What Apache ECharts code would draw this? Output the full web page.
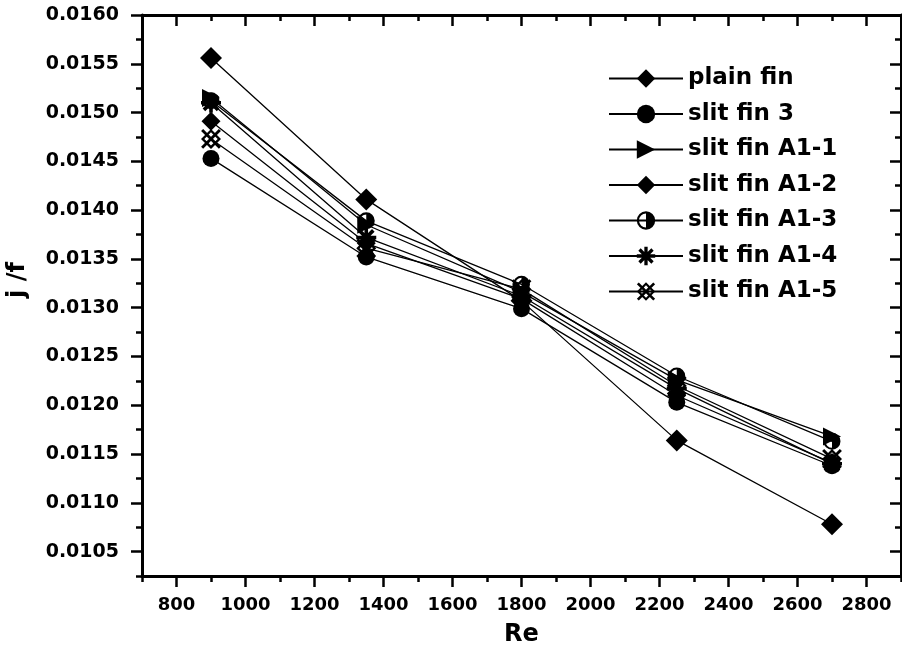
<!DOCTYPE html>
<html>
<head>
<meta charset="utf-8">
<title>j/f versus Re</title>
<script src="https://cdn.jsdelivr.net/npm/echarts@6/dist/echarts.min.js"></script>
<style>
  html, body { margin: 0; padding: 0; background: #fff; }
  #chart { width: 902px; height: 654px; }
</style>
</head>
<body>
<div id="chart"></div>
<script>
// Reynolds numbers of the measured points
const reValues = [900, 1350, 1800, 2250, 2700];

// j/f for each fin type
const plainFin = [0.01556, 0.01411, 0.01307, 0.01164, 0.01078];
const slitFin3 = [0.01453, 0.01352, 0.01299, 0.01203, 0.01138];
const slitFinA1_1 = [0.01515, 0.01385, 0.01316, 0.01226, 0.01168];
const slitFinA1_2 = [0.01491, 0.01366, 0.01309, 0.01210, 0.01141];
const slitFinA1_3 = [0.01512, 0.01389, 0.01324, 0.01230, 0.01163];
const slitFinA1_4 = [0.01510, 0.01372, 0.01312, 0.01217, 0.01140];
const slitFinA1_5 = [0.01473, 0.01361, 0.01319, 0.01220, 0.01145];

const seriesNames = ['plain fin', 'slit fin 3', 'slit fin A1-1', 'slit fin A1-2',
  'slit fin A1-3', 'slit fin A1-4', 'slit fin A1-5'];

// Tick labels
const xTickLabels = ['800', '1000', '1200', '1400', '1600', '1800', '2000', '2200', '2400', '2600', '2800'];
const yTickLabels = ['0.0105', '0.0110', '0.0115', '0.0120', '0.0125', '0.0130',
  '0.0135', '0.0140', '0.0145', '0.0150', '0.0155', '0.0160'];

const X_MIN = 700, X_MAX = 2900;
const Y_MIN = 0.01025, Y_MAX = 0.0160;

const xMajor = xTickLabels.map(Number);
const yMajor = yTickLabels.map(Number);
const xMinor = [];
for (let v = 700; v <= 2900; v += 200) xMinor.push(v);
const yMinor = yMajor.map(v => +(v - 0.00025).toFixed(5));

// Marker shapes
const SYM_TRIANGLE_RIGHT = 'path://M0,0 L20,10 L0,20 Z';
const SYM_HALF_CIRCLE = 'path://M0,10 A10,10 0 1,1 20,10 A10,10 0 1,1 0,10 Z ' +
  'M10,2.4 A7.6,7.6 0 0,0 2.4,10 A7.6,7.6 0 0,0 10,17.6 Z';
const SYM_ASTERISK = 'path://M0,8.2 L20,8.2 L20,11.8 L0,11.8 Z ' +
  'M8.2,0 L11.8,0 L11.8,20 L8.2,20 Z ' +
  'M4.2,1.66 L18.34,15.8 L15.8,18.34 L1.66,4.2 Z ' +
  'M18.34,4.2 L4.2,18.34 L1.66,15.8 L15.8,1.66 Z';
const SYM_CROSS_DIAMOND = 'path://M10,1 L19,10 L10,19 L1,10 Z ' +
  'M10,4 L4,10 L10,16 L16,10 Z ' +
  'M2.92,1.08 L18.92,17.08 L17.08,18.92 L1.08,2.92 Z ' +
  'M18.92,2.92 L2.92,18.92 L1.08,17.08 L17.08,1.08 Z';

const seriesData = [plainFin, slitFin3, slitFinA1_1, slitFinA1_2, slitFinA1_3, slitFinA1_4, slitFinA1_5];
const seriesSymbols = ['diamond', 'circle', SYM_TRIANGLE_RIGHT, 'diamond', SYM_HALF_CIRCLE, SYM_ASTERISK, SYM_CROSS_DIAMOND];
const seriesSymbolSizes = [22, 17, 18, 19, 17, 20, 20];

const FONT = 'DejaVu Sans';

const chart = echarts.init(document.getElementById('chart'), null, { renderer: 'canvas' });

function axisBase(extra) {
  return Object.assign({
    type: 'value',
    scale: true,
    splitLine: { show: false },
    axisLine: { show: false, onZero: false },
    axisLabel: { show: false },
    axisTick: { show: false }
  }, extra);
}

const xAxes = [
  axisBase({
    min: X_MIN, max: X_MAX, position: 'bottom',
    axisLine: { show: true, onZero: false, lineStyle: { color: '#000', width: 3 } },
    axisTick: { show: true, inside: false, length: 11, customValues: xMajor, lineStyle: { color: '#000', width: 2.5 } },
    axisLabel: {
      show: true, customValues: xMajor, margin: 20,
      formatter: v => xTickLabels[xMajor.indexOf(v)] ?? String(v),
      fontFamily: FONT, fontWeight: 'bold', fontSize: 18, color: '#000'
    },
    name: 'Re', nameLocation: 'middle', nameGap: 47,
    nameTextStyle: { fontFamily: FONT, fontWeight: 'bold', fontSize: 24, color: '#000' }
  }),
  axisBase({
    min: X_MIN, max: X_MAX, position: 'bottom',
    axisTick: { show: true, inside: false, length: 6, customValues: xMinor, lineStyle: { color: '#000', width: 2.5 } }
  }),
  axisBase({
    min: X_MIN, max: X_MAX, position: 'top',
    axisLine: { show: true, onZero: false, lineStyle: { color: '#000', width: 3 } },
    axisTick: { show: true, inside: true, length: 11, customValues: xMajor, lineStyle: { color: '#000', width: 2.5 } }
  }),
  axisBase({
    min: X_MIN, max: X_MAX, position: 'top',
    axisTick: { show: true, inside: true, length: 6, customValues: xMinor, lineStyle: { color: '#000', width: 2.5 } }
  })
];

const yAxes = [
  axisBase({
    min: Y_MIN, max: Y_MAX, position: 'left',
    axisLine: { show: true, onZero: false, lineStyle: { color: '#000', width: 3 } },
    axisTick: { show: true, inside: false, length: 11, customValues: yMajor, lineStyle: { color: '#000', width: 2.5 } },
    axisLabel: {
      show: true, customValues: yMajor, margin: 23,
      formatter: v => v.toFixed(4),
      fontFamily: FONT, fontWeight: 'bold', fontSize: 19, color: '#000'
    }
  }),
  axisBase({
    min: Y_MIN, max: Y_MAX, position: 'left',
    axisTick: { show: true, inside: false, length: 6, customValues: yMinor, lineStyle: { color: '#000', width: 2.5 } }
  }),
  axisBase({
    min: Y_MIN, max: Y_MAX, position: 'right',
    axisLine: { show: true, onZero: false, lineStyle: { color: '#000', width: 3 } },
    axisTick: { show: true, inside: true, length: 11, customValues: yMajor, lineStyle: { color: '#000', width: 2.5 } }
  }),
  axisBase({
    min: Y_MIN, max: Y_MAX, position: 'right',
    axisTick: { show: true, inside: true, length: 6, customValues: yMinor, lineStyle: { color: '#000', width: 2.5 } }
  })
];

const series = seriesNames.map((name, i) => ({
  name: name,
  type: 'line',
  xAxisIndex: 0,
  yAxisIndex: 0,
  data: reValues.map((re, k) => [re, seriesData[i][k]]),
  symbol: seriesSymbols[i],
  symbolSize: seriesSymbolSizes[i],
  showAllSymbol: true,
  lineStyle: { color: '#000', width: 1.3 },
  itemStyle: { color: '#000', borderWidth: 0 },
  emphasis: { disabled: true },
  animation: false,
  z: 3
}));

chart.setOption({
  animation: false,
  backgroundColor: '#fff',
  grid: { left: 142, right: 1, top: 15, bottom: 78, containLabel: false },
  legend: {
    left: 603,
    top: 62,
    orient: 'vertical',
    itemWidth: 74,
    itemHeight: 23,
    itemGap: 12.5,
    data: seriesNames,
    textStyle: {
      fontFamily: FONT, fontSize: 23, fontWeight: 'bold', color: '#000',
      padding: [0, 0, 0, 0]
    },
    inactiveColor: '#000'
  },
  // Vertical axis title, reading bottom to top
  graphic: [{
    type: 'text',
    x: 18,
    y: 280,
    rotation: Math.PI / 2,
    style: {
      text: 'j /f',
      fontFamily: FONT, fontWeight: 'bold', fontSize: 24, fill: '#000',
      align: 'center', verticalAlign: 'middle'
    }
  }],
  xAxis: xAxes,
  yAxis: yAxes,
  series: series
});
</script>
</body>
</html>
